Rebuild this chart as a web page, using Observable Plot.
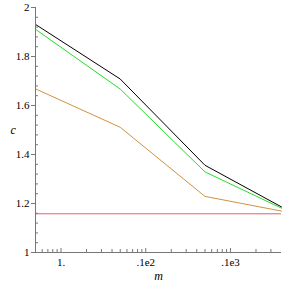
<!DOCTYPE html>
<html>
<head>
<meta charset="utf-8">
<script src="https://cdn.jsdelivr.net/npm/d3@7"></script>
<script src="https://cdn.jsdelivr.net/npm/@observablehq/plot@0.6"></script>
<style>
  html, body { margin: 0; padding: 0; background: #fff; }
  #chart svg { display: block; }
  #chart svg, #chart svg text { font-family: "Liberation Serif", "DejaVu Serif", serif !important; }
</style>
</head>
<body>
<div id="chart"></div>
<script>
// Data
const m = [0.5, 5, 50, 400];
const seriesBlack = [1.931, 1.708, 1.356, 1.186];
const seriesGreen = [1.911, 1.667, 1.329, 1.181];
const seriesOrange = [1.668, 1.511, 1.229, 1.169];
const redLevel = 1.158;

const xMajorTicks = [1, 10, 100];
const xTickLabels = ["1.", ".1e2", ".1e3"];
const xMinorTicks = [0.6, 0.7, 0.8, 0.9, 2, 3, 4, 5, 6, 7, 8, 9, 20, 30, 40, 50, 60, 70, 80, 90, 200, 300];
const yMajorTicks = [1, 1.2, 1.4, 1.6, 1.8, 2];
const yMinorTicks = d3.range(1.04, 2, 0.04).filter(v => Math.abs(v * 5 - Math.round(v * 5)) > 1e-6);

const rows = (ys, name) => m.map((x, i) => ({ m: x, c: ys[i], s: name }));
const data = [
  ...rows(seriesBlack, "black"),
  ...rows(seriesGreen, "green"),
  ...rows(seriesOrange, "orange")
];

const colors = { black: "#000000", green: "#22e022", orange: "#d0923e" };
const axisColor = "#777777";

const chart = Plot.plot({
  width: 285,
  height: 285,
  marginLeft: 35,
  marginRight: 4,
  marginTop: 7,
  marginBottom: 33,
  style: { fontSize: "11px", background: "#fff", color: "#000" },
  x: { type: "log", domain: [0.5, 400] },
  y: { domain: [1, 2] },
  marks: [
    Plot.ruleY([redLevel], { stroke: "#e06070", strokeWidth: 1 }),
    Plot.line(data, { x: "m", y: "c", z: "s", stroke: d => colors[d.s], strokeWidth: 1 }),
    Plot.ruleY([1], { stroke: axisColor }),
    Plot.ruleX([0.5], { stroke: axisColor }),
    // x axis: labels, inward major and minor ticks
    Plot.axisX({ ticks: xMajorTicks, tickSize: 0, tickPadding: 6, tickFormat: d => xTickLabels[xMajorTicks.indexOf(d)], label: null, fontSize: 11 }),
    Plot.axisX({ ticks: xMajorTicks, tickSize: 4, dy: -4, text: null, label: null, stroke: axisColor }),
    Plot.axisX({ ticks: xMinorTicks, tickSize: 3, dy: -3, text: null, label: null, stroke: axisColor }),
    // y axis: outward major ticks with labels, inward minor ticks
    Plot.axisY({ ticks: yMajorTicks, tickSize: 4, tickPadding: 2, tickFormat: d => String(+d.toFixed(1)), label: null, stroke: axisColor, fontSize: 11 }),
    Plot.axisY({ ticks: yMinorTicks, tickSize: 3, dx: 3, text: null, label: null, stroke: axisColor }),
    Plot.text(["c"], { frameAnchor: "left", dx: -25, fontStyle: "italic", fontSize: 12 }),
    Plot.text(["m"], { frameAnchor: "bottom", dy: 27, fontStyle: "italic", fontSize: 12 })
  ]
});
document.getElementById("chart").appendChild(chart);
</script>
</body>
</html>
